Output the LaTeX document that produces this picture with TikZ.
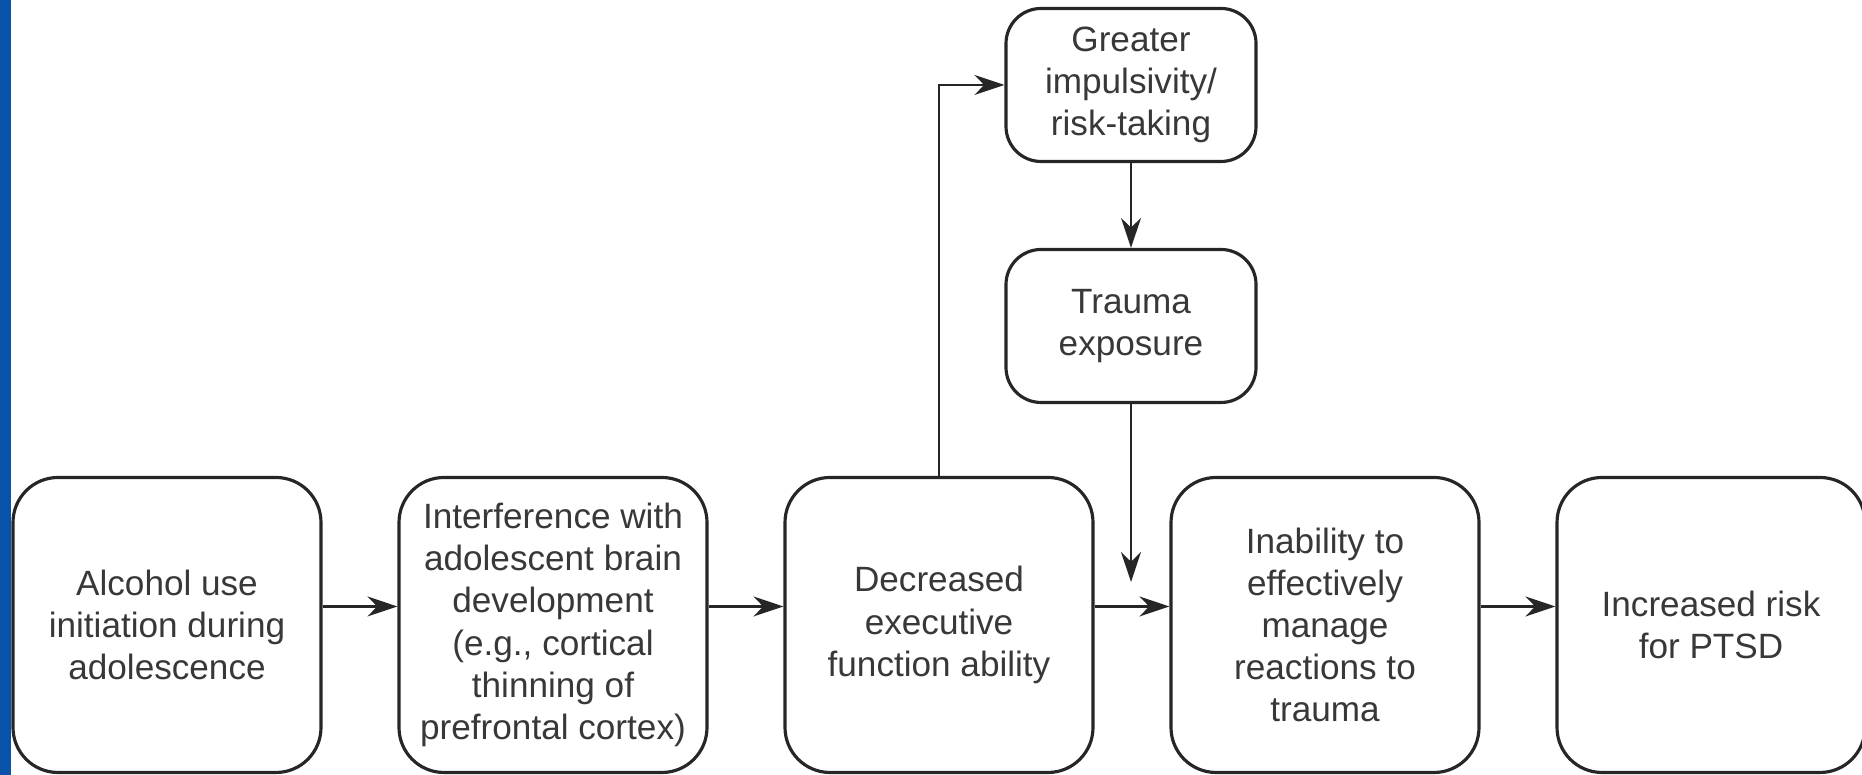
\documentclass[tikz,border=0pt]{standalone}
\usepackage{fontspec}
\setmainfont{Liberation Sans}
\usetikzlibrary{arrows.meta}
\definecolor{sidebar}{RGB}{8,82,168}

\begin{document}
\begin{tikzpicture}[box/.style={draw=black!85, line width=0.9pt, rounded corners=4.5mm, minimum width=3.08cm, minimum height=2.95cm, align=center, text=black!78, font=\fontsize{10}{12}\selectfont, inner sep=0pt},
smallbox/.style={box, rounded corners=3.5mm, minimum width=2.5cm, minimum height=1.53cm},
arr/.style={draw=black!85, line width=0.7pt, -{Stealth[length=3mm,width=2mm]}}]
\useasboundingbox (0,0) rectangle (18.62,7.75);
\fill[sidebar] (0,0) rectangle (0.11,7.75);

\node[box] (alcohol) at (1.67,1.50) {Alcohol use\\initiation during\\adolescence};
\node[box] (interfere) at (5.53,1.50) {Interference with\\adolescent brain\\development\\(e.g., cortical\\thinning of\\prefrontal cortex)};
\node[box] (decreased) at (9.39,1.50) {Decreased\\executive\\function ability};
\node[box] (inability) at (13.25,1.50) {Inability to\\effectively\\manage\\reactions to\\trauma};
\node[box] (ptsd) at (17.11,1.50) {Increased risk\\for PTSD};

\node[smallbox] (impulsive) at (11.31,6.90) {Greater\\impulsivity/\\risk-taking};
\node[smallbox] (trauma) at (11.31,4.49) {Trauma\\exposure};
\coordinate (meet) at (11.31,1.93);

\draw[arr] ([yshift=1.85mm]alcohol.east) -- ([yshift=1.85mm]interfere.west);
\draw[arr] ([yshift=1.85mm]interfere.east) -- ([yshift=1.85mm]decreased.west);
\draw[arr] ([yshift=1.85mm]decreased.east) -- ([yshift=1.85mm]inability.west);
\draw[arr] ([yshift=1.85mm]inability.east) -- ([yshift=1.85mm]ptsd.west);
\draw[arr] (decreased.north) |- (impulsive.west);
\draw[arr] (impulsive.south) -- (trauma.north);
\draw[arr] (trauma.south) -- (meet);
\end{tikzpicture}
\end{document}
